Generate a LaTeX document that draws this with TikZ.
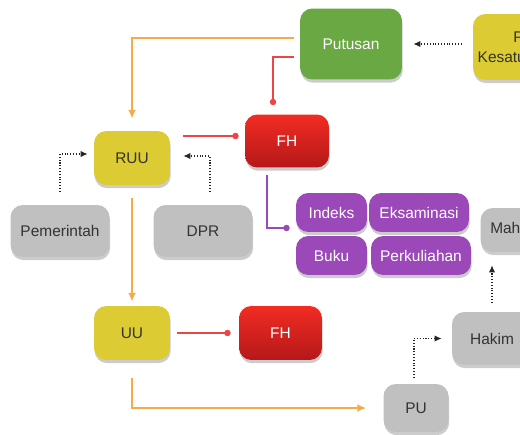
\documentclass[tikz,border=0pt]{standalone}
\usepackage{fontspec}
\setmainfont{Liberation Sans}
\usepackage{xcolor}
\usepackage{tikz}
\usetikzlibrary{arrows.meta, positioning, shadows}
\definecolor{myyellow}{HTML}{DCCB32}
\definecolor{mygreen}{HTML}{6AA844}
\definecolor{myred}{HTML}{F22C22}
\definecolor{mydarkred}{HTML}{B5181A}
\definecolor{mypurple}{HTML}{9B48B9}
\definecolor{mygray}{HTML}{C0C0C0}
\definecolor{myorange}{HTML}{F9AA48}
\definecolor{mylink}{HTML}{F04444}
\tikzstyle{box} = [rectangle, rounded corners=7pt, inner sep=0pt, align=center, font=\fontsize{8.8}{11}\selectfont, drop shadow={shadow xshift=0.4pt, shadow yshift=-1.8pt, opacity=0.4}]
\tikzstyle{yellowbox} = [box, fill=myyellow, text=black!80]
\tikzstyle{greenbox} = [box, fill=mygreen, text=white]
\tikzstyle{redbox} = [box, top color=myred, bottom color=mydarkred, text=white]
\tikzstyle{purplebox} = [box, fill=mypurple, text=white, minimum height=0.78cm]
\tikzstyle{graybox} = [box, fill=mygray, text=black!80]
\tikzstyle{orangelink} = [line width=1pt, myorange, -{Latex[length=5pt,width=4.5pt]}]
\tikzstyle{redlink} = [line width=1pt, mylink, -{Circle[length=3.6pt]}]
\tikzstyle{purplelink} = [line width=0.9pt, mypurple, -{Circle[length=3.6pt]}]
\tikzstyle{dotlink} = [densely dotted, line width=0.6pt, black!85, -{Latex[length=4pt,width=3.6pt]}]

\begin{document}
\begin{tikzpicture}[x=0.02cm, y=-0.02cm]
\useasboundingbox (0,0) rectangle (520,435);
\clip (0,0) rectangle (520,435);

% top row
\node[greenbox, minimum width=2.04cm, minimum height=1.42cm] (putusan) at (351,44) {Putusan};
\node[yellowbox, minimum width=2.56cm, minimum height=1.32cm] (prinsip) at (537,47) {Prinsip\\Kesatuan Hukum};

% rancangan
\node[yellowbox, minimum width=1.52cm, minimum height=1.08cm] (ruu) at (132,158) {RUU};
\node[redbox, minimum width=1.68cm, minimum height=1.06cm] (fhtop) at (287,141) {FH};
\node[graybox, minimum width=1.98cm, minimum height=1.04cm] (pemerintah) at (60,231) {Pemerintah};
\node[graybox, minimum width=1.98cm, minimum height=1.04cm] (dpr) at (203,231) {DPR};

% kegiatan FH
\node[purplebox, minimum width=1.42cm] (indeks) at (331.5,212.5) {Indeks};
\node[purplebox, minimum width=2.0cm] (eksaminasi) at (419,212.5) {Eksaminasi};
\node[purplebox, minimum width=1.42cm] (buku) at (331.5,255.5) {Buku};
\node[purplebox, minimum width=2.0cm] (perkuliahan) at (421,255.5) {Perkuliahan};

% undang-undang
\node[yellowbox, minimum width=1.52cm, minimum height=1.08cm] (uu) at (132,333) {UU};
\node[redbox, minimum width=1.66cm, minimum height=1.08cm] (fhbottom) at (280.5,333) {FH};
\node[graybox, minimum width=1.3cm, minimum height=0.96cm] (pu) at (416,408) {PU};
\node[graybox, minimum width=1.6cm, minimum height=1.06cm] (hakim) at (492,338.5) {Hakim};
\node[graybox, minimum width=2.9cm, minimum height=0.88cm] (mahkamah) at (553,230) {Mahkamah Agung};

% alur utama
\draw[orangelink, shorten <=0.12cm, shorten >=0.24cm] ([yshift=0.12cm]putusan.west) -| (ruu.north);
\draw[orangelink, shorten <=0.26cm, shorten >=0.08cm] (ruu.south) -- (uu.north);
\draw[orangelink, shorten <=0.36cm, shorten >=0.34cm] (uu.south) |- (pu.west);

% ke FH
\draw[redlink, shorten <=0.12cm, shorten >=0.18cm] ([yshift=-0.26cm]putusan.west) -| ([xshift=-0.28cm]fhtop.north);
\draw[redlink, shorten <=0.26cm, shorten >=0.12cm] ([yshift=0.1cm]fhtop.west -| ruu.east) -- ([yshift=0.1cm]fhtop.west);
\draw[redlink, shorten <=0.14cm, shorten >=0.16cm] (uu.east) -- (fhbottom.west);
\draw[purplelink, shorten <=0.14cm, shorten >=0.12cm] ([xshift=-0.4cm]fhtop.south) |- ([yshift=-0.31cm]indeks.west);

% usulan
\draw[dotlink, shorten <=0.26cm, shorten >=0.12cm] (pemerintah.north) |- ([yshift=0.08cm]ruu.west);
\draw[dotlink, shorten <=0.26cm, shorten >=0.26cm] ([xshift=0.14cm]dpr.north) |- ([yshift=0.04cm]ruu.east);
\draw[dotlink, shorten <=0.22cm, shorten >=0.22cm] (prinsip.west |- putusan.east) -- (putusan.east);
\draw[dotlink, shorten <=0.12cm, shorten >=0.2cm] ([xshift=-0.04cm]pu.north) |- (hakim.west);
\draw[dotlink, shorten <=0.18cm, shorten >=0.26cm] (hakim.north) -- (hakim.north |- mahkamah.south);
\end{tikzpicture}
\end{document}
